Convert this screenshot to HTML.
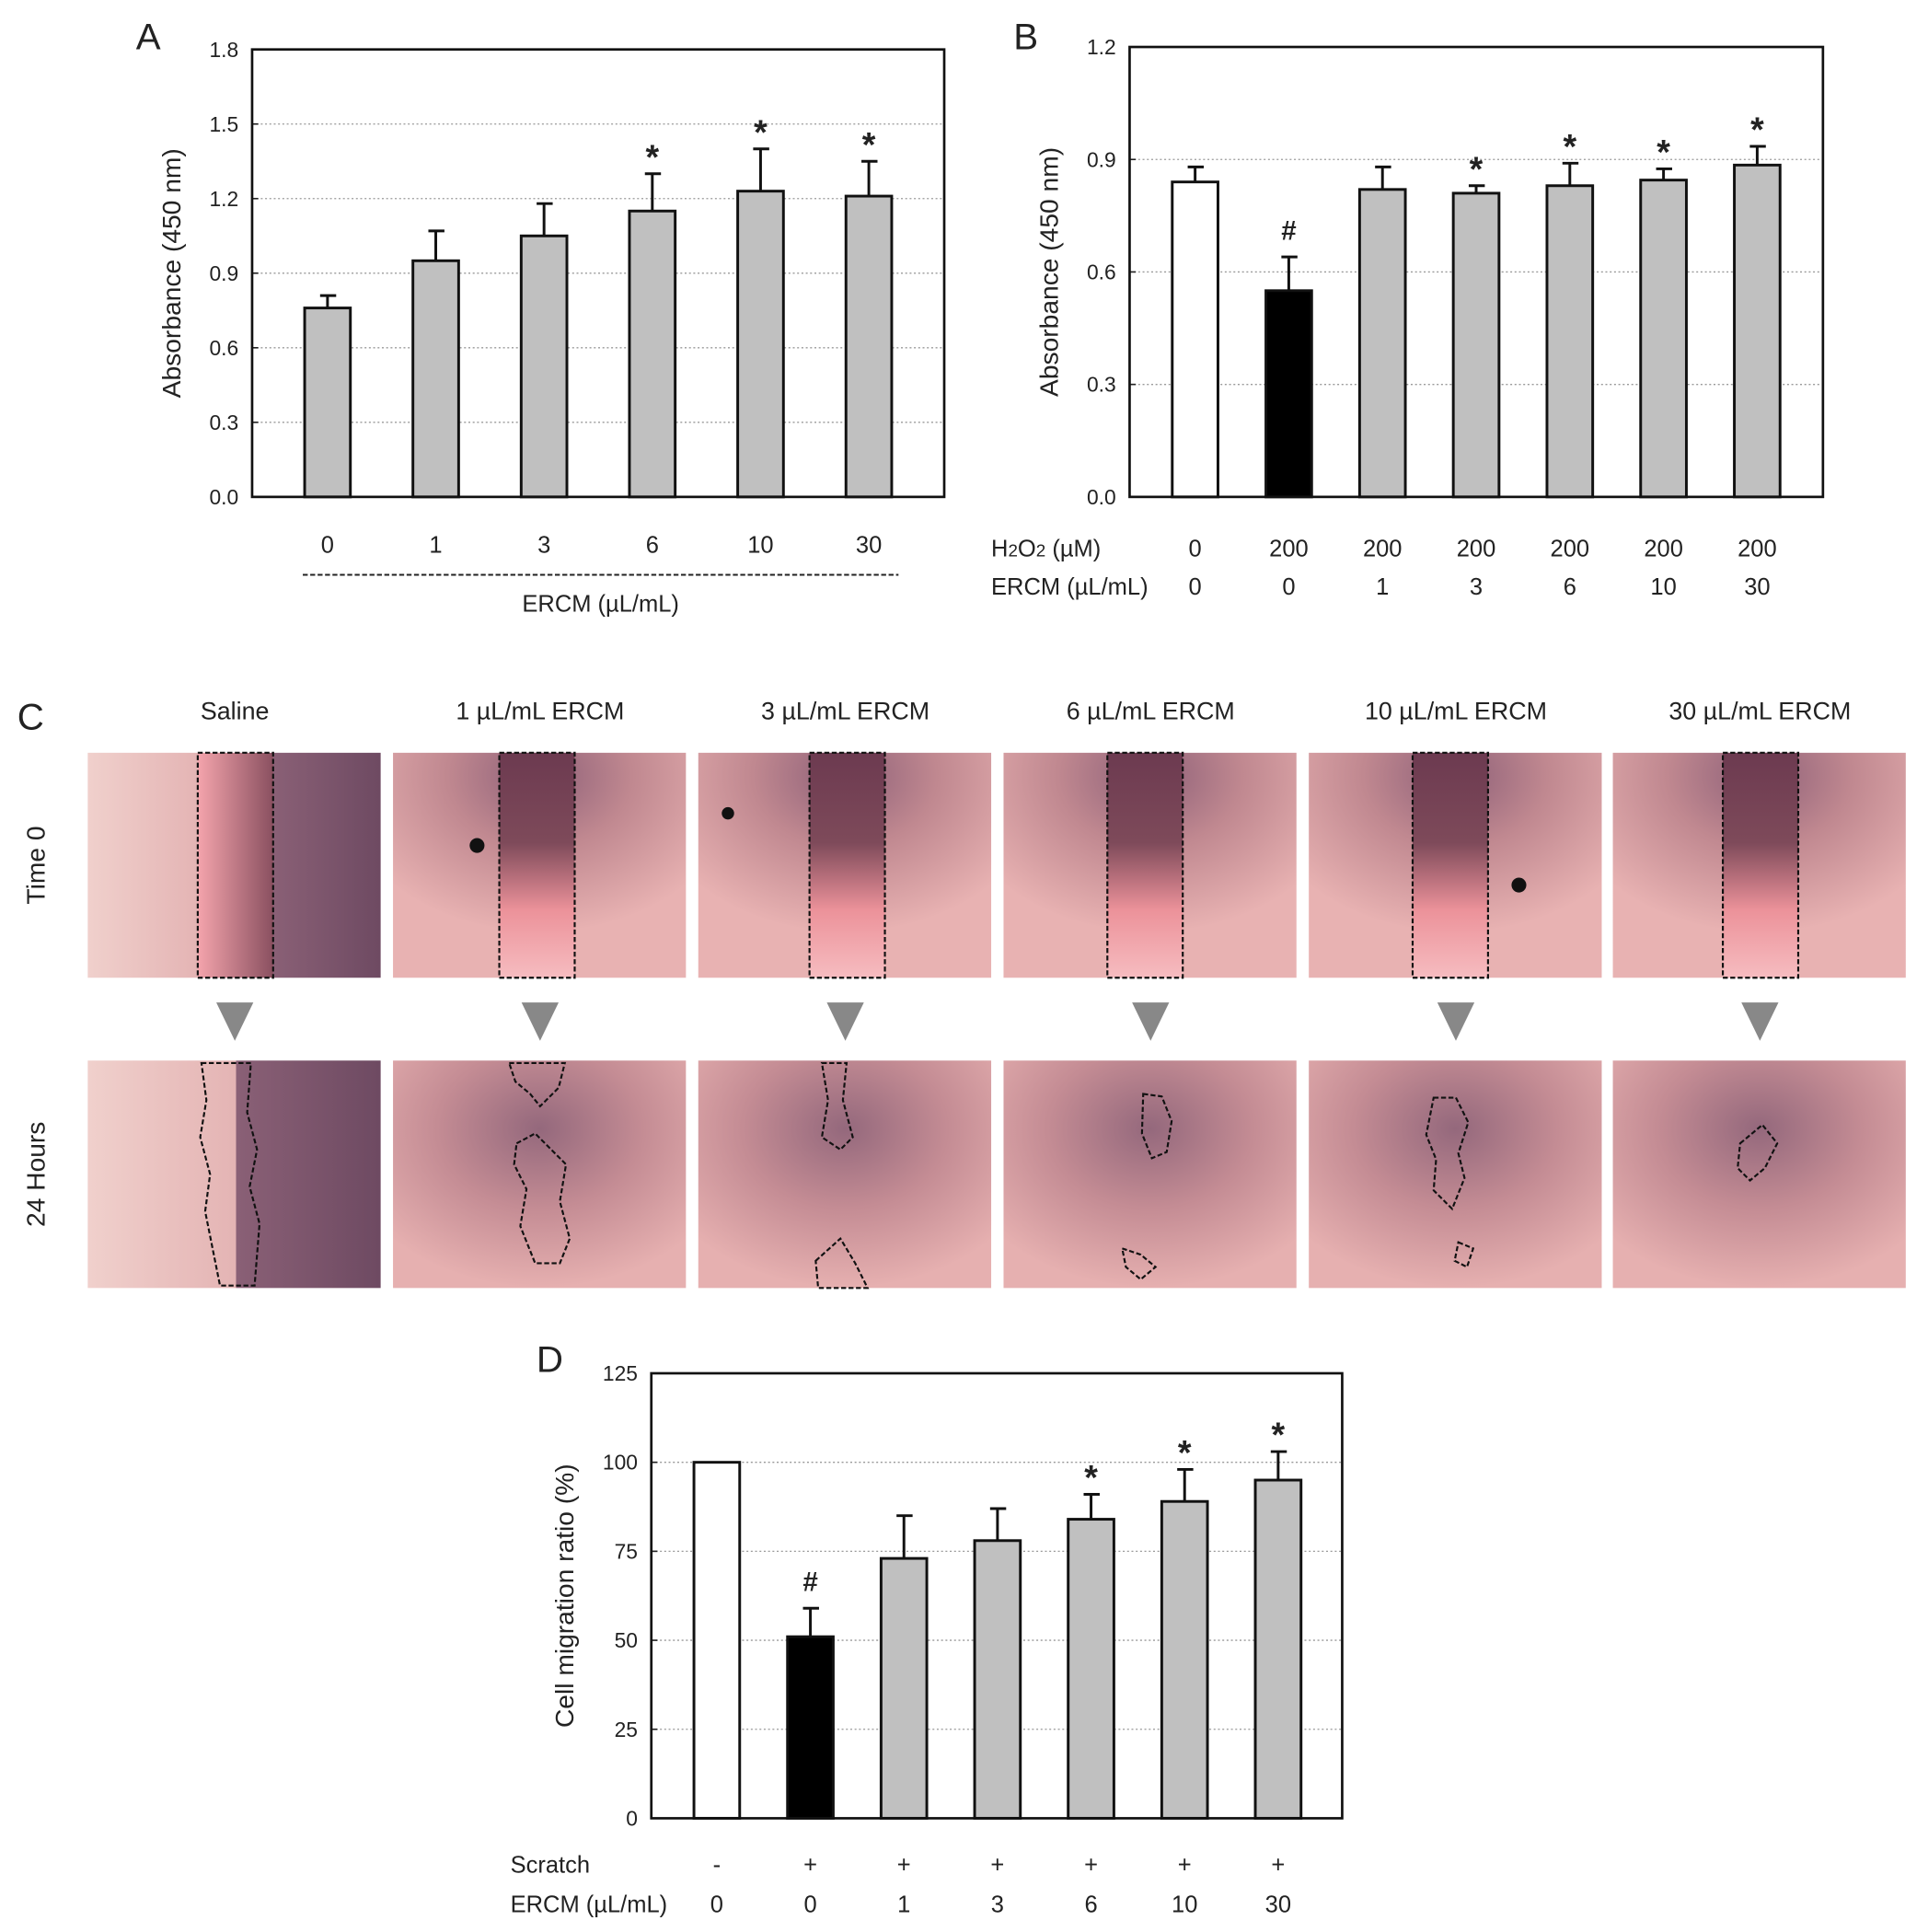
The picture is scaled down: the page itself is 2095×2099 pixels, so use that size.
<!DOCTYPE html>
<html><head><meta charset="utf-8"><style>
html,body{margin:0;padding:0;background:#fff}
svg{display:block}
text{font-family:"Liberation Sans",sans-serif;fill:#222}
</style></head><body>
<svg id="fig" width="2095" height="2099" viewBox="0 0 1560 1563" preserveAspectRatio="none" xmlns="http://www.w3.org/2000/svg">
<defs>
<linearGradient id="gapA" x1="0" x2="1" y1="0" y2="0"><stop offset="0" stop-color="#f4a4ac"/><stop offset="1" stop-color="#8a5060"/></linearGradient>
<linearGradient id="gapV" x1="0" x2="0" y1="0" y2="1"><stop offset="0" stop-color="#6c3a50"/><stop offset="0.4" stop-color="#7e4a5a"/><stop offset="0.7" stop-color="#ec929a"/><stop offset="1" stop-color="#f6bcc0"/></linearGradient>
<radialGradient id="bgR" cx="0.5" cy="0.1" r="0.7"><stop offset="0" stop-color="#8e6078"/><stop offset="0.45" stop-color="#c08890"/><stop offset="1" stop-color="#e8b2b2"/></radialGradient>
<radialGradient id="bgR2" cx="0.5" cy="0.3" r="0.7"><stop offset="0" stop-color="#94687c"/><stop offset="0.5" stop-color="#c48c94"/><stop offset="1" stop-color="#e6b0b0"/></radialGradient>
<linearGradient id="salL" x1="0" x2="1"><stop offset="0" stop-color="#f0d0cc"/><stop offset="1" stop-color="#e4b4b4"/></linearGradient>
<linearGradient id="salR" x1="0" x2="1"><stop offset="0" stop-color="#8a6076"/><stop offset="1" stop-color="#6e4a62"/></linearGradient>
</defs>

<text x="110" y="40" font-size="30">A</text>
<text x="820" y="40" font-size="30">B</text>
<text x="14" y="590" font-size="30">C</text>
<text x="434" y="1110" font-size="30">D</text>

<g id="chartA"></g>
<g id="chartB"></g>
<g id="chartD"></g>
<g id="panelC"></g>

<line x1="245" y1="465" x2="727" y2="465" stroke="#222" stroke-width="1.5" stroke-dasharray="4,2"/>
<text x="486" y="495" font-size="19" text-anchor="middle">ERCM (µL/mL)</text>
<text x="802" y="450" font-size="19">H<tspan font-size="14">2</tspan>O<tspan font-size="14">2</tspan> (µM)</text>
<text x="802" y="481" font-size="19">ERCM (µL/mL)</text>
<text x="413" y="1515" font-size="19">Scratch</text>
<text x="413" y="1547" font-size="19">ERCM (µL/mL)</text>
</svg>
<script>
// ---- Chart A data ----
const catsA = ["0","1","3","6","10","30"];
const valsA = [0.76,0.95,1.05,1.15,1.23,1.21];
const errsA = [0.05,0.12,0.13,0.15,0.17,0.14];
const sigA = ["","","","*","*","*"];
const ticksA = [0.0,0.3,0.6,0.9,1.2,1.5,1.8];
// ---- Chart B data ----
const h2o2B = ["0","200","200","200","200","200","200"];
const ercmB = ["0","0","1","3","6","10","30"];
const valsB = [0.84,0.55,0.82,0.81,0.83,0.845,0.885];
const errsB = [0.04,0.09,0.06,0.02,0.06,0.03,0.05];
const sigB = ["","#","","*","*","*","*"];
const ticksB = [0.0,0.3,0.6,0.9,1.2];
// ---- Chart D data ----
const scratchD = ["-","+","+","+","+","+","+"];
const ercmD = ["0","0","1","3","6","10","30"];
const valsD = [100,51,73,78,84,89,95];
const errsD = [0,8,12,9,7,9,8];
const sigD = ["","#","","","*","*","*"];
const ticksD = [0,25,50,75,100,125];
const fillsB = ["#fff","#000","#c0c0c0","#c0c0c0","#c0c0c0","#c0c0c0","#c0c0c0"];
const fillsD = ["#fff","#000","#c0c0c0","#c0c0c0","#c0c0c0","#c0c0c0","#c0c0c0"];

const NS="http://www.w3.org/2000/svg";
function mk(tag,attrs,parent){const e=document.createElementNS(NS,tag);for(const k in attrs)e.setAttribute(k,attrs[k]);parent.appendChild(e);return e;}

function drawChart(g,cfg){
  const {x0,x1,y0,y1,max,ticks,vals,errs,sig,fills,dec,centers,title,titleX,key}=cfg;
  const ys=v=>y1-(v/max)*(y1-y0);
  ticks.forEach(t=>{
    const y=ys(t);
    if(t>0&&t<max){const gl=mk("line",{x1:x0,x2:x1,y1:y,y2:y,stroke:"#999","stroke-width":1,"stroke-dasharray":"1.5,2"},g);
      
      }
    const tk=mk("line",{x1:x0,x2:x0+5,y1:y,y2:y,stroke:"#222","stroke-width":1.2},g);
    
    
    const tl=mk("text",{x:x0-11,y:y+6,"font-size":17,"text-anchor":"end"},g);
    tl.textContent=t.toFixed(dec);
    
    
  });
  const bw=37;
  vals.forEach((v,i)=>{
    const cx=centers(i);
    const top=ys(v);
    if(errs[i]>0){const et=ys(v+errs[i]);
      const el=mk("path",{d:`M${cx} ${top}V${et}M${cx-6} ${et}H${cx+7}`,stroke:"#111","stroke-width":2.2,fill:"none"},g);
      
      
      if(sig[i]){const s=mk("text",{x:cx,y:et-(sig[i]=="*"?4:14),"font-size":sig[i]=="*"?28:22,"font-weight":"bold","text-anchor":"middle"},g);
        s.textContent=sig[i];
        
        }
    }
    const r=mk("rect",{x:cx-bw/2,y:top,width:bw,height:y1-top,fill:fills[i],stroke:"#111","stroke-width":2.2},g);
    
    
  });
  const fr=mk("rect",{x:x0,y:y0,width:x1-x0,height:y1-y0,fill:"none",stroke:"#111","stroke-width":2},g);
  
  
  const yt=mk("text",{x:0,y:0,"font-size":21,"text-anchor":"middle",transform:`translate(${titleX},${(y0+y1)/2}) rotate(-90)`},g);
  yt.textContent=title;
  
  
  return ys;
}
function rowLabels(g,labels,centers,y,name){
  labels.forEach((l,i)=>{const t=mk("text",{x:centers(i),y:y,"font-size":19,"text-anchor":"middle"},g);
    t.textContent=l;
    
    });
}
const gA=document.getElementById("chartA");
const cA=i=>265+i*87.6;
drawChart(gA,{x0:204,x1:764,y0:40,y1:402,max:1.8,ticks:ticksA,vals:valsA,errs:errsA,sig:sigA,fills:valsA.map(()=>"#c0c0c0"),dec:1,centers:cA,title:"Absorbance (450 nm)",titleX:146,key:"a"});
rowLabels(gA,catsA,cA,447,"x-tick-label");
const gB=document.getElementById("chartB");
const cB=i=>967+i*75.8;
drawChart(gB,{x0:914,x1:1475,y0:38,y1:402,max:1.2,ticks:ticksB,vals:valsB,errs:errsB,sig:sigB,fills:fillsB,dec:1,centers:cB,title:"Absorbance (450 nm)",titleX:856,key:"b"});
rowLabels(gB,h2o2B,cB,450,"x-label-h2o2");
rowLabels(gB,ercmB,cB,481,"x-label-ercm");
const gD=document.getElementById("chartD");
const cD=i=>580+i*75.7;
drawChart(gD,{x0:527,x1:1086,y0:1111,y1:1471,max:125,ticks:ticksD,vals:valsD,errs:errsD,sig:sigD,fills:fillsD,dec:0,centers:cD,title:"Cell migration ratio (%)",titleX:464,key:"d"});
rowLabels(gD,scratchD,cD,1515,"x-label-scratch");
rowLabels(gD,ercmD,cD,1547,"x-label-ercm");

// ---- Panel C ----
const gC=document.getElementById("panelC");
const colTitles=["Saline","1 µL/mL ERCM","3 µL/mL ERCM","6 µL/mL ERCM","10 µL/mL ERCM","30 µL/mL ERCM"];
const colX=[71,318,565,812,1059,1305];
const gapX=[160,404,655,896,1143,1394];
colX.forEach((x,i)=>{
  const t=mk("text",{x:x+119,y:582,"font-size":20,"text-anchor":"middle"},gC);
  t.textContent=colTitles[i];
  
  
  const p0=mk("g",{},gC);
  
  
  if(i==0){
    mk("rect",{x:x,y:609,width:90,height:182,fill:"url(#salL)"},p0);
    mk("rect",{x:gapX[0]+60,y:609,width:x+237-gapX[0]-60,height:182,fill:"url(#salR)"},p0);
    mk("rect",{x:gapX[0],y:609,width:61,height:182,fill:"url(#gapA)",stroke:"#111","stroke-width":1.6,"stroke-dasharray":"4,2"},p0);
  } else {
    mk("rect",{x:x,y:609,width:237,height:182,fill:"url(#bgR)"},p0);
    mk("rect",{x:gapX[i],y:609,width:61,height:182,fill:"url(#gapV)",stroke:"#111","stroke-width":1.6,"stroke-dasharray":"4,2"},p0);
  }
  const ar=mk("polygon",{points:`${x+104},811 ${x+134},811 ${x+119},842`,fill:"#888"},gC);
  
  
  const p1=mk("g",{},gC);
  
  
  if(i==0){
    mk("rect",{x:x,y:858,width:120,height:184,fill:"url(#salL)"},p1);
    mk("rect",{x:x+120,y:858,width:117,height:184,fill:"url(#salR)"},p1);
  } else {
    mk("rect",{x:x,y:858,width:237,height:184,fill:"url(#bgR2)"},p1);
  }
});
[[386,684,6],[589,658,5],[1229,716,6]].forEach(d=>{const c=mk("circle",{cx:d[0],cy:d[1],r:d[2],fill:"#111"},gC);
  
  });
const outlines=[
"M163 860h40l-3 40l8 30l-6 30l8 30l-4 50h-28l-6-30l-6-30l4-30l-8-30l5-30z",
"M412 860h45l-5 20l-15 15l-8-10l-12-10z M418 925l15-8l10 10l15 15l-5 30l8 30l-8 20h-20l-12-30l5-30l-10-20z",
"M665 860h20l-3 30l8 30l-10 10l-15-10l5-30z M660 1020l20-18l12 20l10 20h-40z",
"M925 885l15 2l8 20l-4 25l-12 5l-8-20z M908 1010l15 5l12 10l-12 10l-12-10z",
"M1160 888l18 0l10 20l-8 25l5 20l-10 25l-15-15l2-25l-8-20z M1180 1005l12 5l-5 15l-10-5z",
"M1408 925l18-15l12 15l-10 20l-12 10l-10-10z"
];
outlines.forEach(d=>{const p=mk("path",{d:d,fill:"none",stroke:"#111","stroke-width":1.6,"stroke-dasharray":"4,2"},gC);
  
  });
const r0=mk("text",{x:0,y:0,"font-size":21,"text-anchor":"middle",transform:"translate(36,700) rotate(-90)"},gC);
r0.textContent="Time 0";


const r1=mk("text",{x:0,y:0,"font-size":21,"text-anchor":"middle",transform:"translate(36,950) rotate(-90)"},gC);
r1.textContent="24 Hours";


</script>
</body></html>
